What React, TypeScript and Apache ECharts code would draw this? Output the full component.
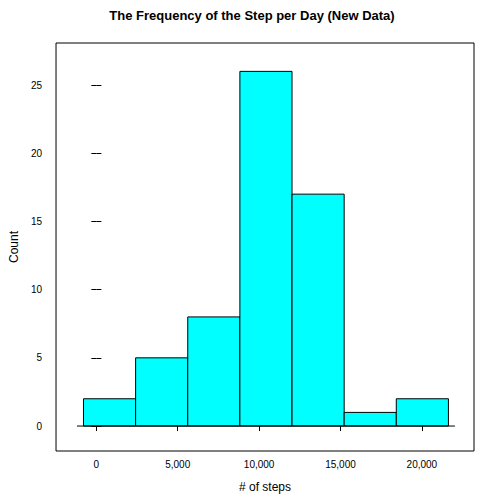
import React, { useEffect, useRef } from 'react';
import * as echarts from 'echarts';

const binStart = -790;
const binWidth = 3203;
const counts = [2, 5, 8, 26, 17, 1, 2];
const xTicks = [0, 5000, 10000, 15000, 20000];
const yTicks = [0, 5, 10, 15, 20, 25];

const App: React.FC = () => {
  const chartRef = useRef<HTMLDivElement>(null);

  useEffect(() => {
    if (!chartRef.current) return;
    const chart = echarts.init(chartRef.current, undefined, { renderer: 'svg' });
    const bars = counts.map((c, i) => [binStart + i * binWidth, binStart + (i + 1) * binWidth, c]);
    const lastEdge = binStart + counts.length * binWidth;
    const font = 'Arial, Liberation Sans, sans-serif';
    const xCommon = {
      type: 'value', min: -2477, max: 23202,
      splitLine: { show: false },
      axisLine: { show: false },
      axisTick: { show: true, inside: false, length: 5, customValues: xTicks, lineStyle: { color: '#000' } },
    };
    const yCommon = {
      type: 'value', min: -1.83, max: 28.08,
      splitLine: { show: false },
      axisLine: { show: false },
      axisTick: { show: true, inside: false, length: 5, customValues: yTicks, lineStyle: { color: '#000' } },
    };
    chart.setOption({
      animation: false,
      title: {
        text: 'The Frequency of the Step per Day (New Data)',
        left: 'center', top: 4,
        textStyle: { fontSize: 13, fontWeight: 'bold', color: '#000', fontFamily: font },
      },
      grid: { left: 49, right: 30, top: 43, bottom: 53, show: true, borderColor: '#000', borderWidth: 1 },
      xAxis: [
        {
          ...xCommon, position: 'bottom',
          name: '# of steps', nameLocation: 'middle', nameGap: 30,
          nameTextStyle: { fontSize: 12, color: '#000', fontFamily: font },
          axisLabel: { customValues: xTicks, fontSize: 10, color: '#000', fontFamily: font, margin: 8 },
        },
        { ...xCommon, position: 'top', axisLabel: { show: false } },
      ],
      yAxis: [
        {
          ...yCommon, position: 'left',
          name: 'Count', nameLocation: 'middle', nameGap: 32, nameRotate: 90,
          nameTextStyle: { fontSize: 12, color: '#000', fontFamily: font },
          axisLabel: { customValues: yTicks, fontSize: 10, color: '#000', fontFamily: font, margin: 14 },
        },
        { ...yCommon, position: 'right', axisLabel: { show: false } },
      ],
      series: [
        {
          type: 'line',
          data: [[binStart - 400, 0], [lastEdge + 400, 0]],
          symbol: 'none', lineStyle: { color: '#000', width: 1 }, silent: true,
        },
        {
          type: 'custom',
          data: bars,
          renderItem: (params: any, api: any) => {
            const p0 = api.coord([api.value(0), 0]);
            const p1 = api.coord([api.value(1), api.value(2)]);
            return {
              type: 'rect',
              shape: { x: p0[0], y: p1[1], width: p1[0] - p0[0], height: p0[1] - p1[1] },
              style: { fill: '#00FFFF', stroke: '#000', lineWidth: 1 },
            };
          },
          encode: { x: [0, 1], y: 2 },
        },
      ],
    });
    return () => chart.dispose();
  }, []);

  return <div ref={chartRef} style={{ position: 'fixed', left: 0, top: 0, width: 504, height: 504, background: '#fff' }} />;
};

export default App;
